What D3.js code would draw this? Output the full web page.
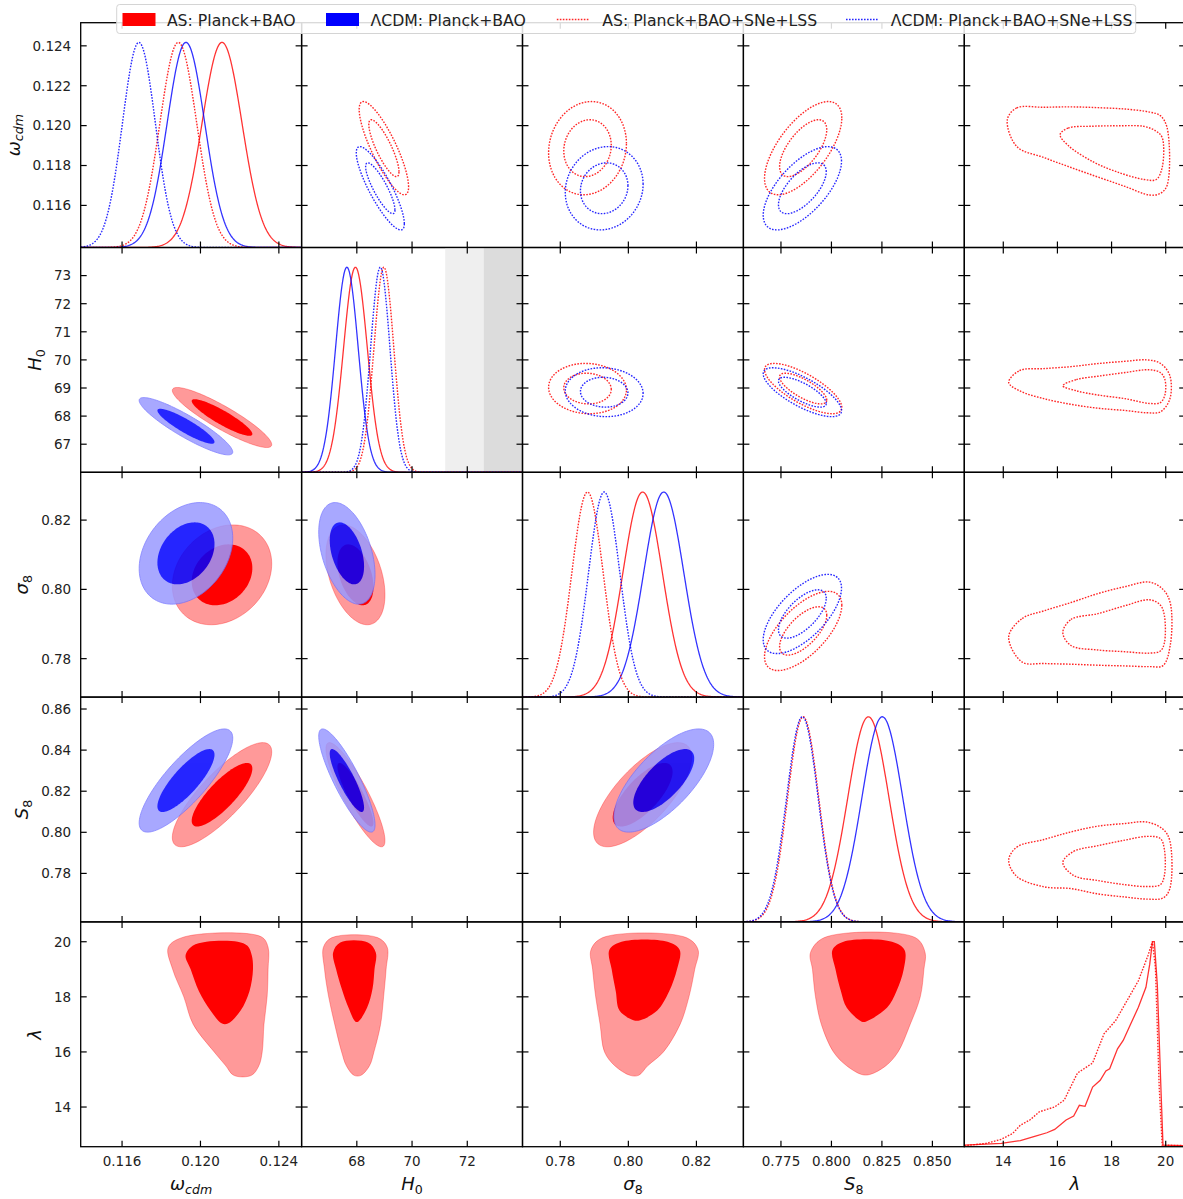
<!doctype html>
<html>
<head>
<meta charset="utf-8">
<script src="https://cdnjs.cloudflare.com/ajax/libs/d3/7.8.5/d3.min.js"></script>
<style>
    html, body { margin: 0; padding: 0; background: #fff; }
    #viz svg { display: block; }
    #viz text { font-family: "DejaVu Sans", sans-serif; }
</style>
</head>
<body>
<div id="viz"></div>
<script>
// parameters, in plotting order
var paramSymbols = ["ω", "H", "σ", "S", "λ"];
var paramSubs = ["cdm", "0", "8", "8", ""];
var paramRanges = [[0.11389, 0.12516], [66.0, 74.0], [0.7689, 0.8338], [0.7564, 0.8658], [12.56, 20.72]];

var xTickValues = [[0.116, 0.120, 0.124], [68, 70, 72], [0.78, 0.80, 0.82], [0.775, 0.800, 0.825, 0.850], [14, 16, 18, 20]];
var xTickLabels = [["0.116", "0.120", "0.124"], ["68", "70", "72"], ["0.78", "0.80", "0.82"], ["0.775", "0.800", "0.825", "0.850"], ["14", "16", "18", "20"]];
var yTickValues = [[0.116, 0.118, 0.120, 0.122, 0.124], [67, 68, 69, 70, 71, 72, 73], [0.78, 0.80, 0.82], [0.78, 0.80, 0.82, 0.84, 0.86], [14, 16, 18, 20]];
var yTickLabels = [["0.116", "0.118", "0.120", "0.122", "0.124"], ["67", "68", "69", "70", "71", "72", "73"], ["0.78", "0.80", "0.82"], ["0.78", "0.80", "0.82", "0.84", "0.86"], ["14", "16", "18", "20"]];

var seriesNames = ["AS: Planck+BAO", "ΛCDM: Planck+BAO", "AS: Planck+BAO+SNe+LSS", "ΛCDM: Planck+BAO+SNe+LSS"];

// marginal means / widths for omega_cdm, H0, sigma8, S8
var meanAS = [0.12110, 67.95, 0.8042, 0.8183];
var sigmaAS = [0.00102, 0.43, 0.0058, 0.0102];
var meanLCDM = [0.11926, 67.64, 0.8104, 0.8252];
var sigmaLCDM = [0.00096, 0.41, 0.0059, 0.0101];
var meanASfull = [0.11887, 68.98, 0.7880, 0.7860];
var sigmaASfull = [0.00094, 0.36, 0.0046, 0.0077];
var meanLCDMfull = [0.11686, 68.85, 0.7929, 0.7856];
var sigmaLCDMfull = [0.00084, 0.35, 0.0046, 0.0078];

// correlations for the pairs below
var pairIndex = [[0, 1], [0, 2], [0, 3], [1, 2], [1, 3], [2, 3]];
var corrAS = [-0.90, 0.22, 0.82, -0.40, -0.88, 0.72];
var corrLCDM = [-0.90, 0.30, 0.82, -0.42, -0.86, 0.70];
var corrASfull = [-0.83, 0.10, 0.65, -0.05, -0.75, 0.65];
var corrLCDMfull = [-0.85, 0.10, 0.65, -0.05, -0.75, 0.65];

// delta chi2 of the 95% and 68% 2D contours
var contourLevels = [6.18, 2.30];

// local H0 bands in the H0 panel
var h0BandOuter = [71.2, 74.0];
var h0BandInner = [72.6, 74.0];

// AS Planck+BAO, lambda on the y axis: x-extent of each contour per lambda
var lamOmegaOuter = {lam: [20.18, 19.8, 19.0, 18.0, 17.0, 16.0, 15.5, 15.15], lo: [0.1192, 0.11836, 0.11858, 0.11915, 0.11963, 0.12070, 0.12129, 0.1217], hi: [0.1231, 0.12345, 0.12345, 0.12340, 0.12324, 0.12315, 0.12298, 0.1226]};
var lamOmegaInner = {lam: [20.0, 19.85, 19.5, 19.0, 18.2, 17.5, 17.03], lo: [0.1203, 0.1196, 0.11924, 0.11950, 0.11992, 0.12051, 0.1211], hi: [0.1219, 0.1224, 0.12262, 0.12268, 0.12250, 0.12205, 0.1214]};
var lamH0Outer = {lam: [20.15, 19.8, 19.0, 18.0, 17.0, 16.0, 15.5, 15.15], lo: [67.1, 66.79, 66.83, 66.98, 67.2, 67.45, 67.62, 67.9], hi: [68.75, 69.1, 69.06, 68.97, 68.86, 68.62, 68.46, 68.15]};
var lamH0Inner = {lam: [19.97, 19.6, 19.0, 18.3, 17.6, 17.1], lo: [67.4, 67.14, 67.25, 67.45, 67.7, 67.95], hi: [68.4, 68.69, 68.64, 68.57, 68.37, 68.05]};
var lamSigma8Outer = {lam: [20.15, 19.7, 19.0, 18.0, 17.0, 16.0, 15.5, 15.15], lo: [0.7925, 0.7890, 0.7895, 0.7904, 0.7917, 0.7930, 0.7960, 0.8005], hi: [0.8170, 0.8205, 0.8195, 0.8178, 0.8152, 0.8103, 0.8057, 0.8030]};
var lamSigma8Inner = {lam: [20.0, 19.7, 19.0, 18.2, 17.5, 17.15], lo: [0.7980, 0.7944, 0.7951, 0.7963, 0.7974, 0.8015], hi: [0.8115, 0.8151, 0.8143, 0.8120, 0.8085, 0.8035]};
var lamS8Outer = {lam: [20.15, 19.6, 19.0, 18.0, 17.0, 16.0, 15.5, 15.18], lo: [0.7965, 0.7896, 0.7906, 0.7921, 0.7950, 0.8010, 0.8075, 0.8150], hi: [0.8415, 0.8464, 0.8458, 0.8440, 0.8390, 0.8330, 0.8270, 0.8190]};
var lamS8Inner = {lam: [20.0, 19.7, 19.0, 18.2, 17.6, 17.1], lo: [0.8060, 0.8005, 0.8020, 0.8047, 0.8076, 0.8150], hi: [0.8300, 0.8362, 0.8358, 0.8322, 0.8275, 0.8170]};

// AS Planck+BAO+SNe+LSS, lambda on the x axis: y-extent of each contour per lambda
var fullOmegaOuter = {lam: [14.15, 14.5, 15.5, 16.5, 17.5, 18.5, 19.4, 19.8, 20.05], lo: [0.1203, 0.11895, 0.11840, 0.11790, 0.11742, 0.11695, 0.11652, 0.11660, 0.11700], hi: [0.1203, 0.12089, 0.12092, 0.12094, 0.12090, 0.12083, 0.12068, 0.12050, 0.11990]};
var fullOmegaInner = {lam: [16.1, 16.4, 17.3, 18.2, 19.2, 19.65, 19.87], lo: [0.11955, 0.11900, 0.11820, 0.11768, 0.11730, 0.11730, 0.11790], hi: [0.11955, 0.11988, 0.11997, 0.11999, 0.11996, 0.11972, 0.11940]};
var fullH0Outer = {lam: [14.2, 14.6, 15.5, 16.5, 17.5, 18.5, 19.3, 19.8, 20.15], lo: [69.2, 68.9, 68.62, 68.42, 68.28, 68.2, 68.12, 68.15, 68.6], hi: [69.2, 69.62, 69.69, 69.76, 69.87, 69.95, 70.0, 69.88, 69.45]};
var fullH0Inner = {lam: [16.2, 16.7, 17.5, 18.5, 19.4, 19.8, 19.97], lo: [69.08, 68.9, 68.75, 68.62, 68.45, 68.48, 68.75], hi: [69.08, 69.3, 69.42, 69.55, 69.65, 69.55, 69.3]};
var fullSigma8Outer = {lam: [14.2, 14.7, 15.5, 16.5, 17.5, 18.5, 19.4, 19.9, 20.17], lo: [0.7863, 0.7790, 0.7786, 0.7784, 0.7781, 0.7779, 0.7777, 0.7780, 0.7840], hi: [0.7863, 0.7916, 0.7938, 0.7962, 0.7988, 0.8008, 0.8021, 0.8000, 0.7960]};
var fullSigma8Inner = {lam: [16.2, 16.5, 17.5, 18.5, 19.4, 19.8, 19.95], lo: [0.7875, 0.7838, 0.7825, 0.7820, 0.7816, 0.7822, 0.7845], hi: [0.7875, 0.7913, 0.7930, 0.7953, 0.7970, 0.7955, 0.7925]};
var fullS8Outer = {lam: [14.2, 14.5, 15.5, 16.5, 17.5, 18.5, 19.3, 19.9, 20.15], lo: [0.7864, 0.7785, 0.7735, 0.7726, 0.7700, 0.7685, 0.7675, 0.7680, 0.7725], hi: [0.7864, 0.7928, 0.7965, 0.8002, 0.8030, 0.8043, 0.8050, 0.8015, 0.7960]};
var fullS8Inner = {lam: [16.2, 16.6, 17.5, 18.5, 19.3, 19.8, 19.95], lo: [0.7853, 0.7790, 0.7765, 0.7745, 0.7736, 0.7745, 0.7789], hi: [0.7853, 0.7907, 0.7935, 0.7962, 0.7980, 0.7970, 0.7917]};

// lambda marginals (normalised to peak)
var lamGridAS = [12.56, 13.93, 14.63, 15.19, 15.61, 15.90, 16.32, 16.60, 16.81, 17.02, 17.30, 17.58, 17.79, 17.93, 18.22, 18.43, 18.71, 18.99, 19.27, 19.41, 19.51, 19.58, 19.69, 19.83, 19.90, 20.72];
var lamDensAS = [0.008, 0.016, 0.030, 0.052, 0.068, 0.084, 0.130, 0.149, 0.202, 0.197, 0.291, 0.324, 0.369, 0.380, 0.477, 0.518, 0.599, 0.680, 0.777, 0.890, 1.0, 1.0, 0.790, 0.260, 0.008, 0.005];
var lamGridASfull = [12.56, 13.36, 13.93, 14.35, 14.63, 14.98, 15.33, 15.90, 16.25, 16.74, 17.30, 17.72, 18.15, 18.57, 18.99, 19.34, 19.51, 19.62, 19.76, 19.87, 20.72];
var lamDensASfull = [0.005, 0.016, 0.036, 0.065, 0.105, 0.130, 0.170, 0.194, 0.227, 0.359, 0.408, 0.550, 0.615, 0.712, 0.809, 0.930, 1.0, 0.874, 0.290, 0.008, 0.005];

var W = 1183, H = 1199;
var left0 = 80.7, top0 = 22.7, pw = 220.9, ph = 224.8;
var tickLen = 6;

var datasets = [
    {mean: meanAS, sigma: sigmaAS, corr: corrAS, color: "#ff0000"},
    {mean: meanLCDM, sigma: sigmaLCDM, corr: corrLCDM, color: "#0000ff"},
    {mean: meanASfull, sigma: sigmaASfull, corr: corrASfull, color: "#ff0000", dotted: true},
    {mean: meanLCDMfull, sigma: sigmaLCDMfull, corr: corrLCDMfull, color: "#0000ff", dotted: true}
];
var lamRowContours = [[lamOmegaOuter, lamOmegaInner], [lamH0Outer, lamH0Inner], [lamSigma8Outer, lamSigma8Inner], [lamS8Outer, lamS8Inner]];
var lamColContours = [[fullOmegaOuter, fullOmegaInner], [fullH0Outer, fullH0Inner], [fullSigma8Outer, fullSigma8Inner], [fullS8Outer, fullS8Inner]];

var svg = d3.select("#viz").append("svg:svg")
    .attr("width", W)
    .attr("height", H);

var xScales = paramRanges.map(function (r, j) {
    return d3.scaleLinear().domain(r).range([left0 + j * pw, left0 + (j + 1) * pw]);
});
var yScales = paramRanges.map(function (r, i) {
    return d3.scaleLinear().domain(r).range([top0 + (i + 1) * ph, top0 + i * ph]);
});
var densScales = paramRanges.map(function (r, i) {
    return d3.scaleLinear().domain([0, 1.096]).range([top0 + (i + 1) * ph, top0 + i * ph]);
});

var getCorr = function (corr, a, b) {
    var lo = Math.min(a, b), hi = Math.max(a, b);
    for (var k = 0; k < pairIndex.length; k++) {
        if (pairIndex[k][0] === lo && pairIndex[k][1] === hi) return corr[k];
    }
    return 0;
};

// 2D gaussian contour of a dataset, x = param a, y = param b
var ellipse = function (ds, a, b, level) {
    var r = Math.sqrt(level), rho = getCorr(ds.corr, a, b);
    return d3.range(0, 120).map(function (k) {
        var t = 2 * Math.PI * k / 120;
        return [ds.mean[a] + ds.sigma[a] * r * Math.cos(t),
                ds.mean[b] + ds.sigma[b] * r * (rho * Math.cos(t) + Math.sqrt(1 - rho * rho) * Math.sin(t))];
    });
};

var gauss1d = function (ds, a) {
    var r = paramRanges[a];
    return d3.range(0, 241).map(function (k) {
        var x = r[0] + (r[1] - r[0]) * k / 240;
        var z = (x - ds.mean[a]) / ds.sigma[a];
        return [x, Math.exp(-0.5 * z * z)];
    });
};

// closed outline from lo/hi extents along lambda
var bandPoints = function (c, lamIsY) {
    var pts = [], k;
    for (k = 0; k < c.lam.length; k++) pts.push(lamIsY ? [c.hi[k], c.lam[k]] : [c.lam[k], c.hi[k]]);
    for (k = c.lam.length - 1; k >= 0; k--) pts.push(lamIsY ? [c.lo[k], c.lam[k]] : [c.lam[k], c.lo[k]]);
    return pts.filter(function (p, i) {
        var q = pts[(i + 1) % pts.length];
        return !(p[0] === q[0] && p[1] === q[1]);
    });
};

var makeLine = function (xs, ys, curve) {
    return d3.line()
        .x(function (d) { return xs(d[0]); })
        .y(function (d) { return ys(d[1]); })
        .curve(curve);
};

// first (red) set opaque, the added (blue) set drawn at alpha 0.85 on top
var drawFilled = function (g, pathOuter, pathInner, color) {
    if (color === "#ff0000") {
        g.append("path").attr("d", pathOuter).attr("fill", "rgb(255,153,153)")
            .attr("stroke", "rgba(255,0,0,0.3)").attr("stroke-width", 1);
        g.append("path").attr("d", pathInner).attr("fill", "#ff0000");
    } else {
        var gb = g.append("g").attr("opacity", 0.85);
        gb.append("path").attr("d", pathOuter).attr("fill", "rgb(153,153,255)")
            .attr("stroke", "rgb(110,110,255)").attr("stroke-width", 0.8);
        gb.append("path").attr("d", pathInner).attr("fill", "#0000ff");
    }
};

var drawDotted = function (g, d, color) {
    g.append("path").attr("d", d)
        .attr("fill", "none")
        .attr("stroke", color)
        .attr("stroke-opacity", 0.85)
        .attr("stroke-width", 1.4)
        .attr("stroke-dasharray", "1.6,1.4");
};

var defs = svg.append("defs");

for (var i = 0; i < 5; i++) {
    for (var j = 0; j < 5; j++) {
        var xs = xScales[j], ys = yScales[i];
        var px = left0 + j * pw, py = top0 + i * ph;
        var clipId = "clip-" + i + "-" + j;
        defs.append("clipPath").attr("id", clipId)
            .append("rect").attr("x", px).attr("y", py).attr("width", pw).attr("height", ph);
        var g = svg.append("g").attr("clip-path", "url(#" + clipId + ")");

        if (i === j) {
            var ds1 = densScales[i];
            if (i === 1) {
                g.append("rect").attr("x", xs(h0BandOuter[0])).attr("y", py)
                    .attr("width", xs(h0BandOuter[1]) - xs(h0BandOuter[0])).attr("height", ph)
                    .attr("fill", "#efefef");
                g.append("rect").attr("x", xs(h0BandInner[0])).attr("y", py)
                    .attr("width", xs(h0BandInner[1]) - xs(h0BandInner[0])).attr("height", ph)
                    .attr("fill", "#dcdcdc");
            }
            if (i < 4) {
                datasets.forEach(function (ds) {
                    var p = g.append("path")
                        .attr("d", makeLine(xs, ds1, d3.curveLinear)(gauss1d(ds, i)))
                        .attr("fill", "none")
                        .attr("stroke", ds.color);
                    if (ds.dotted) {
                        p.attr("stroke-width", 1.4).attr("stroke-dasharray", "1.6,1.4").attr("stroke-opacity", 0.85);
                    } else {
                        p.attr("stroke-width", 1.3).attr("stroke-opacity", 0.8);
                    }
                });
            } else {
                g.append("path")
                    .attr("d", makeLine(xs, ds1, d3.curveLinear)(d3.zip(lamGridASfull, lamDensASfull)))
                    .attr("fill", "none").attr("stroke", "#ff0000")
                    .attr("stroke-width", 1.4).attr("stroke-dasharray", "1.6,1.4").attr("stroke-opacity", 0.85);
                g.append("path")
                    .attr("d", makeLine(xs, ds1, d3.curveLinear)(d3.zip(lamGridAS, lamDensAS)))
                    .attr("fill", "none").attr("stroke", "#ff0000")
                    .attr("stroke-width", 1.3).attr("stroke-opacity", 0.8);
            }
        } else if (i > j) {
            if (i < 4) {
                [datasets[0], datasets[1]].forEach(function (ds) {
                    var line = makeLine(xs, ys, d3.curveLinearClosed);
                    drawFilled(g, line(ellipse(ds, j, i, contourLevels[0])), line(ellipse(ds, j, i, contourLevels[1])), ds.color);
                });
            } else {
                var cl = makeLine(xs, ys, d3.curveCatmullRomClosed.alpha(0.5));
                var pair = lamRowContours[j];
                drawFilled(g, cl(bandPoints(pair[0], true)), cl(bandPoints(pair[1], true)), "#ff0000");
            }
        } else {
            if (j < 4) {
                [datasets[2], datasets[3]].forEach(function (ds) {
                    var line = makeLine(xs, ys, d3.curveLinearClosed);
                    contourLevels.forEach(function (lv) {
                        drawDotted(g, line(ellipse(ds, j, i, lv)), ds.color);
                    });
                });
            } else {
                var cl2 = makeLine(xs, ys, d3.curveCatmullRomClosed.alpha(0.5));
                lamColContours[i].forEach(function (c) {
                    drawDotted(g, cl2(bandPoints(c, false)), "#ff0000");
                });
            }
        }

        // frame and inward ticks on all sides
        var axg = svg.append("g").attr("stroke", "#000").attr("fill", "none");
        axg.append("rect").attr("x", px).attr("y", py).attr("width", pw).attr("height", ph)
            .attr("stroke-width", 1.3);
        xTickValues[j].forEach(function (v) {
            var x = xs(v);
            axg.append("line").attr("x1", x).attr("x2", x).attr("y1", py + ph).attr("y2", py + ph - tickLen).attr("stroke-width", 1.2);
            axg.append("line").attr("x1", x).attr("x2", x).attr("y1", py).attr("y2", py + tickLen).attr("stroke-width", 1.2);
        });
        yTickValues[i].forEach(function (v) {
            var y = ys(v);
            axg.append("line").attr("y1", y).attr("y2", y).attr("x1", px).attr("x2", px + tickLen).attr("stroke-width", 1.2);
            axg.append("line").attr("y1", y).attr("y2", y).attr("x1", px + pw).attr("x2", px + pw - tickLen).attr("stroke-width", 1.2);
        });
    }
}

// tick labels
var bottomY = top0 + 5 * ph;
for (var jj = 0; jj < 5; jj++) {
    xTickValues[jj].forEach(function (v, k) {
        svg.append("text")
            .attr("x", xScales[jj](v))
            .attr("y", bottomY + 19)
            .attr("text-anchor", "middle")
            .attr("font-size", "13.5px")
            .attr("fill", "#222")
            .text(xTickLabels[jj][k]);
    });
}

var addMathLabel = function (sel, idx) {
    sel.append("tspan").attr("font-style", "italic").text(paramSymbols[idx]);
    if (paramSubs[idx]) {
        sel.append("tspan")
            .attr("font-size", "12.6px")
            .attr("dy", 3.5)
            .attr("font-style", idx === 0 ? "italic" : "normal")
            .text(paramSubs[idx]);
    }
};

for (var ii = 0; ii < 5; ii++) {
    var rowLabels = [];
    yTickValues[ii].forEach(function (v, k) {
        var t = svg.append("text")
            .attr("x", left0 - 9.5)
            .attr("y", yScales[ii](v))
            .attr("dy", "0.36em")
            .attr("text-anchor", "end")
            .attr("font-size", "13.5px")
            .attr("fill", "#222")
            .text(yTickLabels[ii][k]);
        rowLabels.push(t);
    });
    var minLeft = d3.min(rowLabels, function (t) { return t.node().getBBox().x; });
    var yl = svg.append("text")
        .attr("transform", "translate(" + (minLeft - 12.8) + "," + (top0 + ii * ph + ph / 2) + ") rotate(-90)")
        .attr("text-anchor", "middle")
        .attr("font-size", "18px")
        .attr("fill", "#111");
    addMathLabel(yl, ii);

    var xl = svg.append("text")
        .attr("x", left0 + ii * pw + pw / 2)
        .attr("y", 1190)
        .attr("text-anchor", "middle")
        .attr("font-size", "18px")
        .attr("fill", "#111");
    addMathLabel(xl, ii);
}

// legend
var legend = svg.append("g");
legend.append("rect")
    .attr("x", 116.7).attr("y", 4.5).attr("width", 1019).attr("height", 29).attr("rx", 3)
    .attr("fill", "#fff").attr("fill-opacity", 0.85)
    .attr("stroke", "#d4d4d4").attr("stroke-width", 1);
var legendX = [122.5, 326, 556.8, 846];
var legendTextX = [166.9, 370.5, 602.2, 890.8];
seriesNames.forEach(function (name, k) {
    var ds = datasets[k];
    if (ds.dotted) {
        legend.append("line")
            .attr("x1", legendX[k]).attr("x2", legendX[k] + 33)
            .attr("y1", 19.5).attr("y2", 19.5)
            .attr("stroke", ds.color).attr("stroke-width", 1.4)
            .attr("stroke-opacity", 0.85)
            .attr("stroke-dasharray", "1.6,1.4");
    } else {
        legend.append("rect")
            .attr("x", legendX[k]).attr("y", 13).attr("width", 33).attr("height", 13)
            .attr("fill", ds.color);
    }
    legend.append("text")
        .attr("x", legendTextX[k]).attr("y", 25.5)
        .attr("font-size", "15.7px")
        .attr("fill", "#222")
        .text(name);
});
</script>
</body>
</html>
